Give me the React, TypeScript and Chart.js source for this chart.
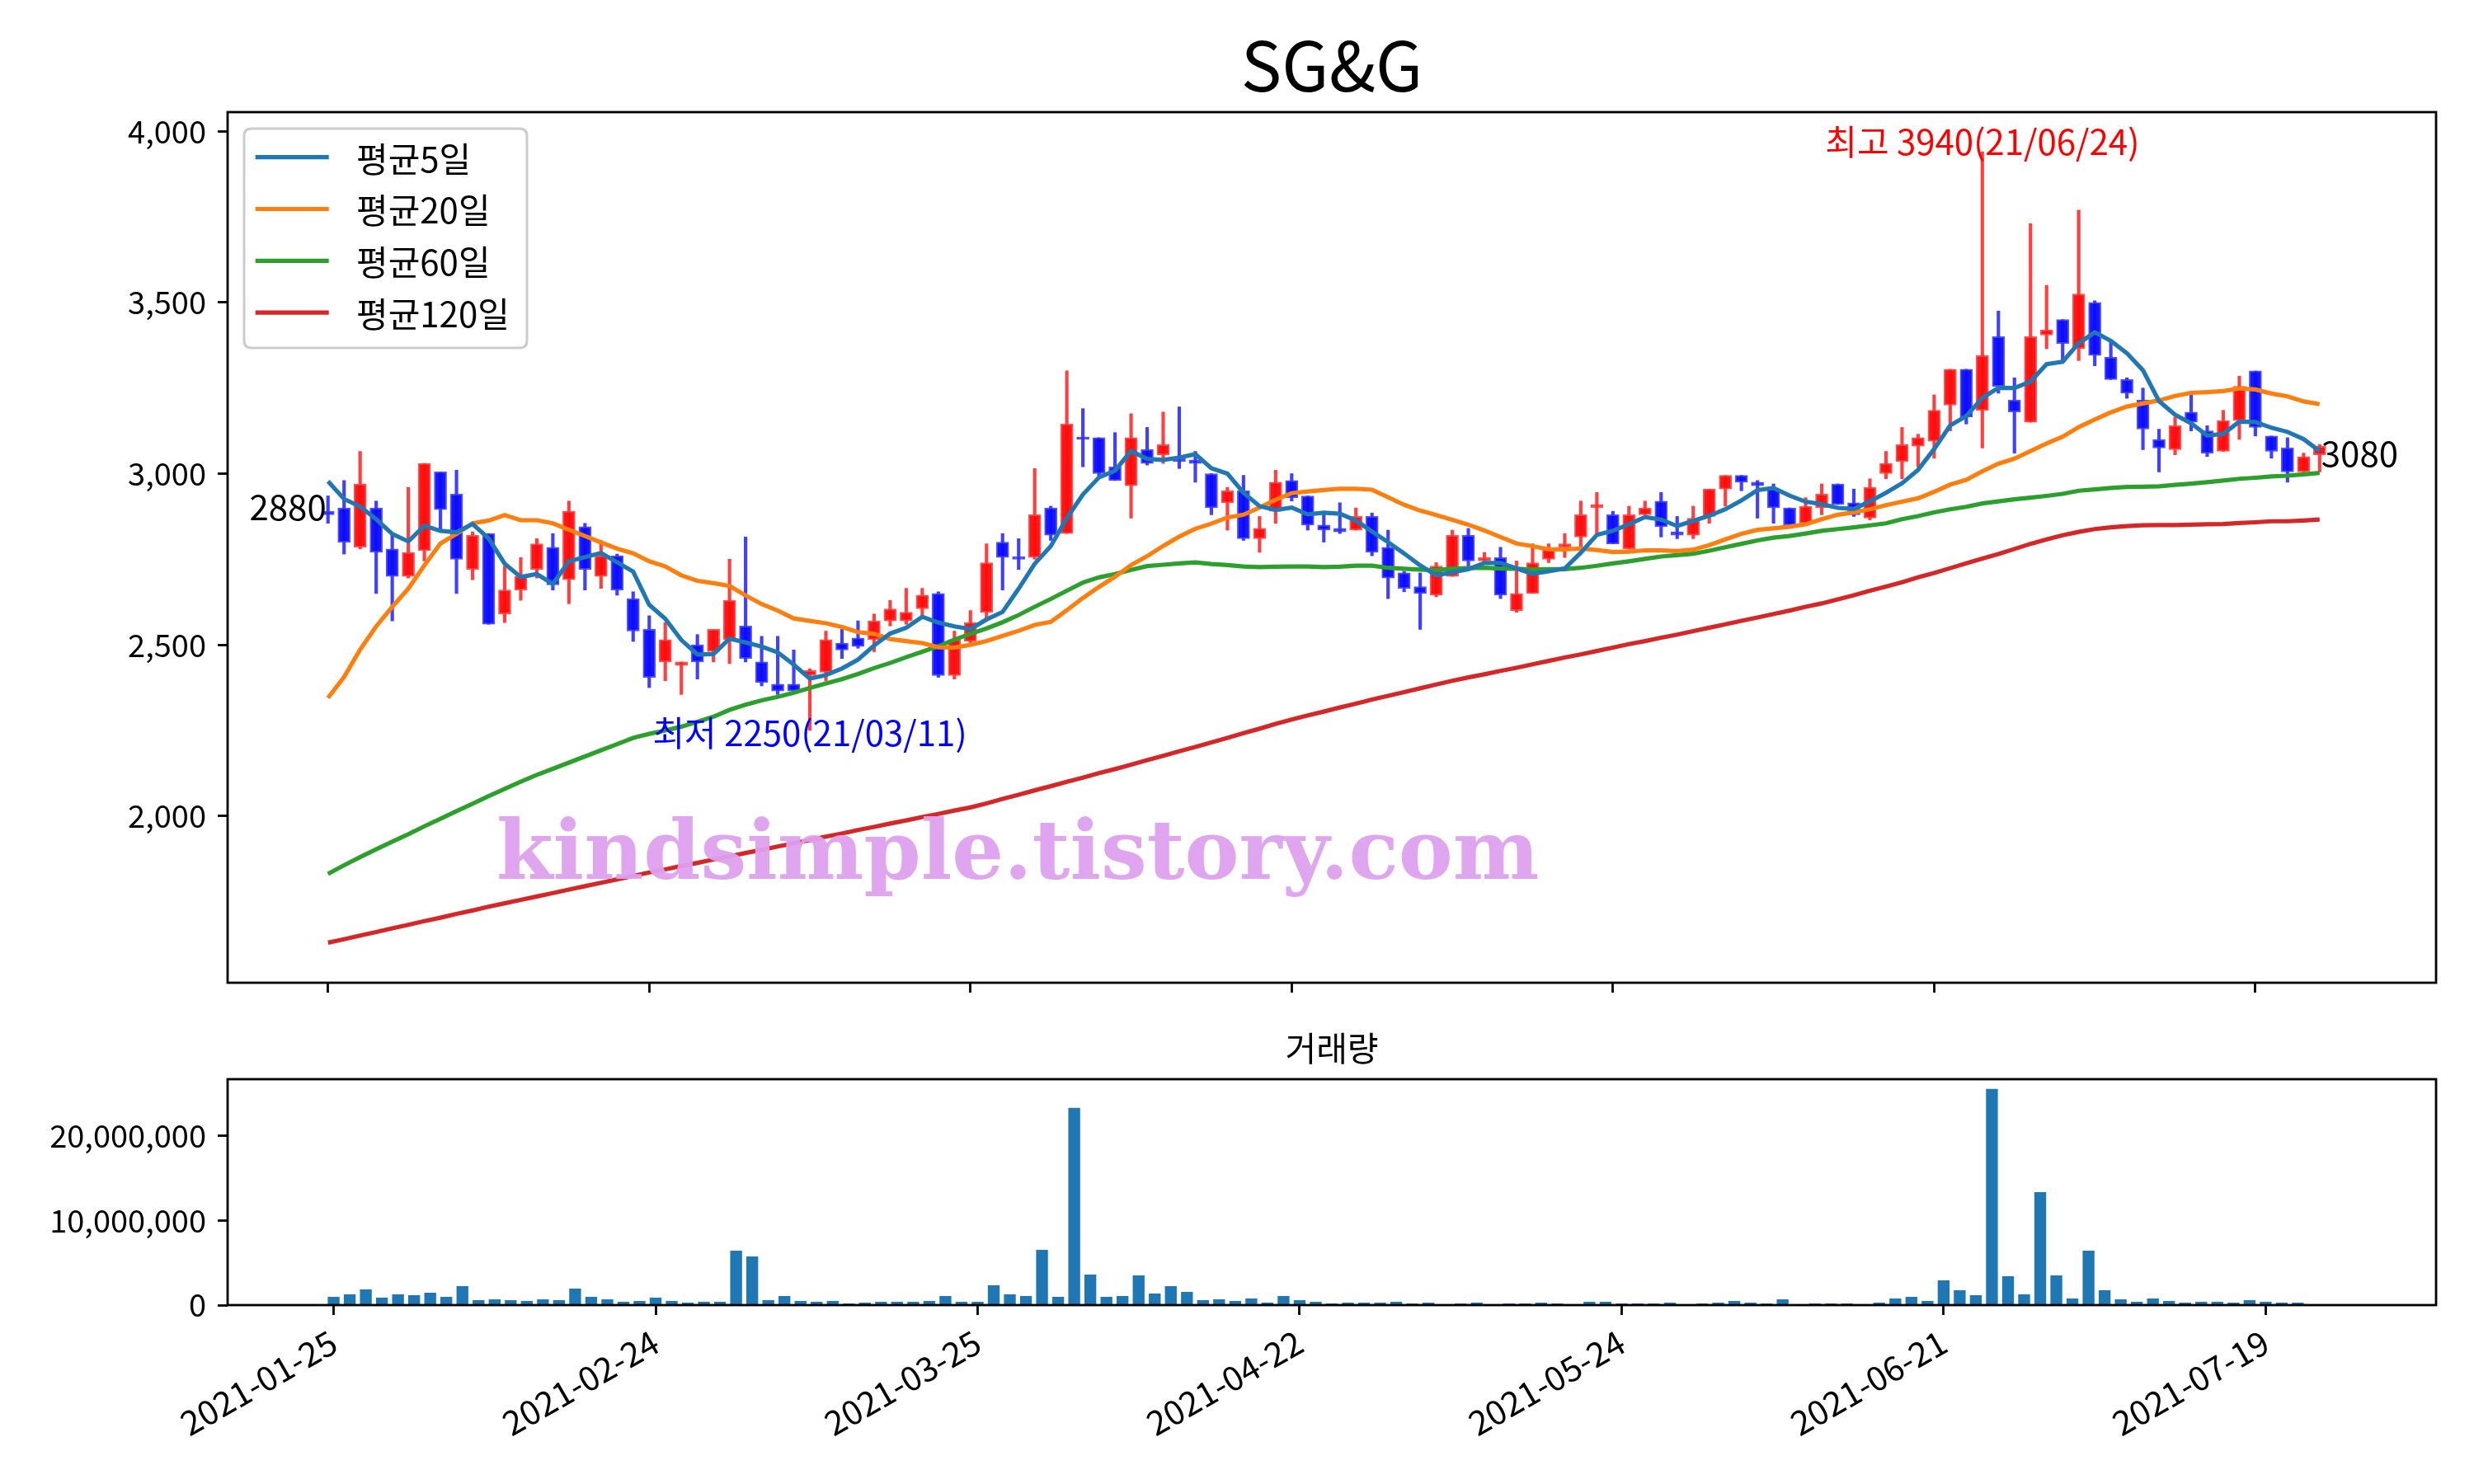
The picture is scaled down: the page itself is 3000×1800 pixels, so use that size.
import React, { useEffect, useRef } from "react";
import { Chart, registerables } from "chart.js";

Chart.register(...registerables);

// ---------------- data ----------------
const chartTitle = "SG&G";
const volumeTitle = "거래량";
const watermark = "kindsimple.tistory.com";
const maLabels = ["평균5일", "평균20일", "평균60일", "평균120일"];
const maColors = ["#1f77b4", "#ff7f0e", "#2ca02c", "#d62728"];

const dates = [
  "2021-01-25","2021-01-26","2021-01-27","2021-01-28","2021-01-29",
  "2021-02-01","2021-02-02","2021-02-03","2021-02-04","2021-02-05",
  "2021-02-08","2021-02-09","2021-02-10",
  "2021-02-15","2021-02-16","2021-02-17","2021-02-18","2021-02-19",
  "2021-02-22","2021-02-23","2021-02-24","2021-02-25","2021-02-26",
  "2021-03-02","2021-03-03","2021-03-04","2021-03-05",
  "2021-03-08","2021-03-09","2021-03-10","2021-03-11","2021-03-12",
  "2021-03-15","2021-03-16","2021-03-17","2021-03-18","2021-03-19",
  "2021-03-22","2021-03-23","2021-03-24","2021-03-25","2021-03-26",
  "2021-03-29","2021-03-30","2021-03-31","2021-04-01","2021-04-02",
  "2021-04-05","2021-04-06","2021-04-07","2021-04-08","2021-04-09",
  "2021-04-12","2021-04-13","2021-04-14","2021-04-15","2021-04-16",
  "2021-04-19","2021-04-20","2021-04-21","2021-04-22","2021-04-23",
  "2021-04-26","2021-04-27","2021-04-28","2021-04-29","2021-04-30",
  "2021-05-03","2021-05-04","2021-05-06","2021-05-07",
  "2021-05-10","2021-05-11","2021-05-12","2021-05-13","2021-05-14",
  "2021-05-17","2021-05-18","2021-05-20","2021-05-21",
  "2021-05-24","2021-05-25","2021-05-26","2021-05-27","2021-05-28",
  "2021-05-31","2021-06-01","2021-06-02","2021-06-03","2021-06-04",
  "2021-06-07","2021-06-08","2021-06-09","2021-06-10","2021-06-11",
  "2021-06-14","2021-06-15","2021-06-16","2021-06-17","2021-06-18",
  "2021-06-21","2021-06-22","2021-06-23","2021-06-24","2021-06-25",
  "2021-06-28","2021-06-29","2021-06-30","2021-07-01","2021-07-02",
  "2021-07-05","2021-07-06","2021-07-07","2021-07-08","2021-07-09",
  "2021-07-12","2021-07-13","2021-07-14","2021-07-15","2021-07-16",
  "2021-07-19","2021-07-20","2021-07-21","2021-07-22","2021-07-23",
];

const opens = [
  2890,2900,2785,2900,2780,2700,2775,3005,2940,2720,
  2825,2590,2660,2720,2785,2690,2845,2700,2760,2635,
  2545,2450,2440,2500,2480,2515,2555,2450,2385,2385,
  2410,2420,2505,2520,2515,2570,2570,2605,2650,2410,
  2510,2595,2800,2755,2755,2900,2825,3105,3105,3020,
  2965,3070,3055,3045,3040,3000,2915,2950,2810,2890,
  2980,2935,2850,2840,2835,2875,2785,2710,2670,2645,
  2700,2820,2745,2755,2600,2650,2750,2785,2815,2900,
  2880,2780,2880,2920,2830,2820,2875,2955,2995,2975,
  2955,2900,2855,2900,2970,2915,2870,3000,3035,3080,
  3095,3200,3305,3185,3400,3215,3150,3405,3450,3365,
  3500,3340,3275,3215,3100,3070,3180,3125,3065,3155,
  3300,3110,3075,3005,3055,
];
const highs = [
  2935,2980,3065,2920,2820,2960,3030,3005,3010,2830,
  2825,2730,2755,2810,2825,2920,2855,2805,2765,2655,
  2585,2565,2450,2530,2545,2750,2815,2525,2525,2485,
  2430,2540,2545,2570,2590,2630,2665,2665,2655,2540,
  2600,2795,2825,2810,3015,2905,3300,3190,3105,3120,
  3175,3135,3180,3195,3065,3000,2960,2995,2875,3010,
  3000,2935,2890,2915,2900,2885,2835,2715,2710,2740,
  2835,2840,2770,2785,2745,2795,2795,2825,2920,2945,
  2890,2905,2920,2945,2875,2905,2955,2995,2995,2980,
  2970,2900,2930,2970,2970,2955,2985,3065,3135,3115,
  3230,3305,3305,3940,3475,3280,3730,3550,3450,3770,
  3505,3385,3280,3250,3130,3165,3230,3140,3185,3285,
  3300,3110,3105,3060,3085,
];
const lows = [
  2855,2765,2780,2650,2570,2695,2745,2835,2650,2690,
  2560,2565,2630,2695,2660,2620,2660,2665,2645,2510,
  2375,2395,2355,2400,2450,2445,2450,2380,2355,2365,
  2250,2395,2460,2490,2480,2555,2560,2585,2405,2400,
  2505,2570,2660,2720,2750,2805,2825,3020,2985,2980,
  2870,3025,3030,3015,2975,2880,2835,2805,2770,2855,
  2920,2835,2800,2825,2835,2760,2635,2655,2545,2640,
  2700,2730,2740,2635,2595,2650,2740,2755,2780,2825,
  2795,2780,2880,2815,2810,2810,2855,2905,2950,2870,
  2855,2850,2850,2880,2910,2875,2865,2985,2985,3020,
  3045,3125,3145,3075,3235,3060,3150,3365,3330,3330,
  3315,3275,3220,3070,3005,3055,3125,3050,3065,3100,
  3110,3045,2975,3005,3005,
];
const closes = [
  2880,2800,2970,2770,2700,2770,3030,2895,2750,2820,
  2560,2660,2700,2795,2675,2890,2720,2760,2660,2540,
  2405,2515,2450,2450,2545,2630,2460,2390,2365,2365,
  2425,2515,2485,2495,2570,2605,2595,2645,2410,2515,
  2565,2740,2755,2750,2880,2820,3145,3100,3000,2980,
  3105,3030,3085,3035,3030,2900,2950,2810,2840,2975,
  2930,2850,2835,2830,2875,2770,2695,2665,2650,2730,
  2820,2745,2755,2645,2650,2740,2780,2795,2880,2910,
  2795,2880,2900,2845,2820,2870,2955,2995,2975,2965,
  2900,2850,2905,2940,2910,2880,2960,3030,3085,3105,
  3185,3305,3165,3345,3255,3180,3400,3420,3380,3525,
  3345,3275,3235,3130,3075,3140,3150,3060,3155,3255,
  3135,3065,3005,3050,3080,
];
const volumes = [
  940000,1240000,1820000,850000,1240000,1140000,1430000,940000,2210000,550000,
  650000,550000,460000,650000,550000,1920000,940000,650000,360000,460000,
  850000,460000,260000,360000,360000,6410000,5720000,550000,1040000,460000,
  360000,460000,160000,260000,360000,360000,360000,460000,1040000,360000,
  360000,2310000,1240000,1040000,6500000,940000,23280000,3580000,940000,1040000,
  3480000,1330000,2210000,1530000,550000,650000,460000,750000,260000,1040000,
  550000,360000,160000,260000,260000,260000,360000,160000,260000,40000,
  160000,260000,40000,160000,160000,260000,160000,40000,360000,360000,
  160000,160000,160000,260000,40000,160000,260000,460000,260000,160000,
  650000,40000,160000,160000,160000,40000,260000,750000,940000,460000,
  2890000,1720000,1140000,25530000,3380000,1240000,13330000,3480000,750000,6410000,
  1720000,650000,360000,750000,460000,260000,360000,360000,260000,550000,
  360000,260000,260000,40000,40000,
];
const ma5 = [
  2978,2926,2904,2867,2824,2802,2848,2833,2829,2853,
  2811,2737,2698,2707,2678,2744,2756,2768,2741,2714,
  2617,2576,2514,2472,2473,2518,2507,2495,2478,2442,
  2401,2412,2431,2457,2498,2533,2550,2582,2565,2554,
  2546,2574,2596,2664,2737,2788,2870,2939,2989,3009,
  3066,3043,3040,3047,3057,3016,3000,2944,2905,2894,
  2901,2881,2886,2883,2863,2831,2800,2767,2732,2703,
  2712,2721,2739,2739,2723,2707,2715,2723,2769,2821,
  2833,2852,2873,2866,2847,2862,2877,2896,2922,2952,
  2958,2936,2918,2911,2900,2897,2919,2944,2972,3011,
  3072,3141,3168,3221,3251,3250,3269,3320,3327,3381,
  3413,3388,3352,3302,3212,3172,3147,3111,3116,3152,
  3151,3134,3122,3101,3066,
];
const ma20 = [
  2345,2406,2486,2554,2611,2664,2732,2796,2824,2855,
  2863,2879,2864,2864,2855,2836,2818,2799,2781,2767,
  2744,2729,2703,2687,2680,2672,2644,2619,2600,2577,
  2570,2563,2552,2537,2532,2517,2511,2505,2493,2492,
  2500,2511,2526,2541,2558,2567,2601,2637,2669,2699,
  2733,2759,2789,2816,2839,2854,2872,2880,2901,2924,
  2943,2948,2952,2956,2956,2953,2931,2909,2892,2879,
  2865,2851,2834,2815,2796,2788,2779,2779,2781,2777,
  2771,2772,2776,2776,2774,2778,2791,2808,2824,2836,
  2840,2845,2852,2867,2880,2887,2896,2908,2918,2928,
  2947,2968,2982,3007,3029,3044,3066,3088,3108,3136,
  3158,3179,3196,3205,3214,3227,3236,3238,3241,3249,
  3246,3234,3226,3211,3203,
];
const ma60 = [
  1831,1856,1880,1903,1925,1947,1970,1992,2014,2036,
  2058,2079,2100,2120,2138,2156,2174,2192,2210,2228,
  2240,2250,2261,2275,2290,2310,2325,2338,2348,2360,
  2374,2387,2400,2415,2432,2447,2464,2480,2496,2515,
  2532,2548,2566,2587,2611,2634,2658,2682,2697,2707,
  2719,2730,2734,2738,2741,2736,2733,2729,2727,2728,
  2729,2729,2727,2728,2731,2731,2725,2722,2720,2718,
  2723,2724,2725,2723,2722,2720,2721,2721,2725,2731,
  2738,2744,2751,2758,2762,2766,2775,2785,2795,2805,
  2813,2818,2825,2833,2838,2843,2849,2855,2867,2876,
  2887,2896,2903,2913,2919,2925,2930,2935,2941,2950,
  2954,2958,2961,2962,2963,2967,2971,2975,2980,2985,
  2988,2992,2994,2998,3002,
];
const ma120 = [
  1630,1640,1651,1661,1672,1682,1693,1703,1714,1724,
  1735,1745,1755,1765,1775,1785,1795,1805,1815,1825,
  1835,1844,1854,1863,1873,1882,1892,1901,1911,1920,
  1930,1940,1949,1959,1968,1978,1987,1997,2006,2016,
  2025,2037,2050,2062,2075,2087,2100,2112,2125,2137,
  2150,2163,2176,2189,2202,2215,2228,2242,2255,2269,
  2282,2294,2305,2317,2328,2340,2351,2362,2373,2384,
  2395,2405,2414,2424,2433,2443,2453,2463,2472,2482,
  2492,2502,2511,2521,2530,2540,2550,2560,2570,2580,
  2590,2600,2611,2621,2633,2645,2658,2670,2683,2697,
  2710,2724,2738,2752,2765,2780,2795,2808,2820,2830,
  2838,2843,2847,2849,2850,2850,2851,2852,2853,2856,
  2858,2861,2861,2863,2866,
];

const priceTicks = [2000, 2500, 3000, 3500, 4000];
const volumeTicks = [0, 10000000, 20000000];
const dateTickIdx = [0, 20, 40, 60, 80, 100, 120];

// ---------------- layout / style ----------------
const FONT = "'Noto Sans CJK KR', 'Noto Sans', sans-serif";
const W = 3000;
const MAIN_H = 1250;
const VOL_TOP = 1230;
const VOL_H = 570;
const AREA_L = 276;
const AREA_R = 2954;
const SPINE = 2.8;

const tickGrid = {
  display: true,
  offset: false,
  drawOnChartArea: false,
  drawTicks: true,
  tickLength: 12,
  tickWidth: SPINE,
  tickColor: "#000",
};

function roundRect(ctx: any, x: number, y: number, w: number, h: number, r: number) {
  ctx.beginPath();
  ctx.moveTo(x + r, y);
  ctx.lineTo(x + w - r, y);
  ctx.quadraticCurveTo(x + w, y, x + w, y + r);
  ctx.lineTo(x + w, y + h - r);
  ctx.quadraticCurveTo(x + w, y + h, x + w - r, y + h);
  ctx.lineTo(x + r, y + h);
  ctx.quadraticCurveTo(x, y + h, x, y + h - r);
  ctx.lineTo(x, y + r);
  ctx.quadraticCurveTo(x, y, x + r, y);
  ctx.closePath();
}

const shortDate = (d: string) => d.slice(2).replace(/-/g, "/");

export default function App() {
  const mainRef = useRef<HTMLCanvasElement | null>(null);
  const volRef = useRef<HTMLCanvasElement | null>(null);

  useEffect(() => {
    const n = closes.length;
    const up = (i: number) => closes[i] >= opens[i];

    let hiIdx = 0;
    let loIdx = 0;
    for (let i = 0; i < n; i++) {
      if (highs[i] > highs[hiIdx]) hiIdx = i;
      if (lows[i] < lows[loIdx]) loIdx = i;
    }

    const mainOverlay = {
      id: "mainOverlay",
      afterDraw(chart: any) {
        const ctx = chart.ctx;
        const { left, top, right, bottom } = chart.chartArea;
        const xs = chart.scales.x;
        const ys = chart.scales.y;
        ctx.save();
        // watermark
        ctx.font = `bold 99px 'DejaVu Serif', serif`;
        ctx.fillStyle = "rgba(222,160,238,0.95)";
        ctx.textAlign = "left";
        ctx.textBaseline = "alphabetic";
        ctx.fillText(watermark, 602, 1066);
        // spines
        ctx.strokeStyle = "#000";
        ctx.lineWidth = SPINE;
        ctx.strokeRect(left, top, right - left, bottom - top);
        // title
        ctx.fillStyle = "#000";
        ctx.font = `83px ${FONT}`;
        ctx.textAlign = "center";
        ctx.textBaseline = "alphabetic";
        ctx.fillText(chartTitle, (left + right) / 2, 111);
        // annotations
        ctx.font = `42px ${FONT}`;
        ctx.fillStyle = "#ff0000";
        ctx.textAlign = "center";
        ctx.fillText(
          `최고 ${highs[hiIdx]}(${shortDate(dates[hiIdx])})`,
          xs.getPixelForValue(hiIdx),
          ys.getPixelForValue(highs[hiIdx]) + 4
        );
        ctx.fillStyle = "#0000ff";
        ctx.fillText(
          `최저 ${lows[loIdx]}(${shortDate(dates[loIdx])})`,
          xs.getPixelForValue(loIdx),
          ys.getPixelForValue(lows[loIdx]) + 19
        );
        ctx.fillStyle = "#000";
        ctx.textAlign = "right";
        ctx.fillText(String(closes[0]), xs.getPixelForValue(0) - 2, ys.getPixelForValue(highs[0]) + 29);
        ctx.textAlign = "left";
        ctx.fillText(String(closes[n - 1]), xs.getPixelForValue(n - 1) + 2, ys.getPixelForValue(highs[n - 1]) + 27);
        // legend
        const lx = left + 20;
        const ly = top + 20;
        roundRect(ctx, lx, ly, 343, 266, 9);
        ctx.fillStyle = "rgba(255,255,255,0.8)";
        ctx.fill();
        ctx.strokeStyle = "#cccccc";
        ctx.lineWidth = 3;
        ctx.stroke();
        ctx.font = `42px ${FONT}`;
        ctx.textBaseline = "middle";
        ctx.textAlign = "left";
        for (let k = 0; k < maLabels.length; k++) {
          const ry = top + 54.7 + k * 62.8;
          ctx.strokeStyle = maColors[k];
          ctx.lineWidth = 5.2;
          ctx.beginPath();
          ctx.moveTo(left + 33.7, ry);
          ctx.lineTo(left + 122.7, ry);
          ctx.stroke();
          ctx.fillStyle = "#000";
          ctx.fillText(maLabels[k], left + 156, ry + 2);
        }
        ctx.restore();
      },
    };

    const volOverlay = {
      id: "volOverlay",
      afterDraw(chart: any) {
        const ctx = chart.ctx;
        const { left, top, right, bottom } = chart.chartArea;
        ctx.save();
        ctx.strokeStyle = "#000";
        ctx.lineWidth = SPINE;
        ctx.strokeRect(left, top, right - left, bottom - top);
        ctx.fillStyle = "#000";
        ctx.font = `41px ${FONT}`;
        ctx.textAlign = "center";
        ctx.textBaseline = "alphabetic";
        ctx.fillText(volumeTitle, (left + right) / 2, 1287 - VOL_TOP);
        ctx.restore();
      },
    };

    const maSets = [ma5, ma20, ma60, ma120].map((arr, k) => ({
      type: "line",
      label: maLabels[k],
      data: arr.map((v, i) => ({ x: i, y: v })),
      borderColor: maColors[k],
      backgroundColor: maColors[k],
      borderWidth: 5.2,
      pointRadius: 0,
      tension: 0,
      order: 1,
    }));

    const main = new Chart(mainRef.current as HTMLCanvasElement, {
      type: "bar",
      data: {
        datasets: [
          {
            type: "bar",
            label: "wick",
            data: highs.map((h, i) => ({ x: i, y: [lows[i], h] })),
            backgroundColor: (c: any) => (up(c.dataIndex) ? "rgba(255,30,30,0.85)" : "rgba(30,30,255,0.85)"),
            borderWidth: 0,
            barThickness: 3.5,
            grouped: false,
            order: 3,
          },
          {
            type: "bar",
            label: "body",
            data: opens.map((o, i) => ({ x: i, y: [o, closes[i]] })),
            backgroundColor: (c: any) => (up(c.dataIndex) ? "rgba(255,10,10,0.95)" : "rgba(10,10,255,0.95)"),
            borderColor: (c: any) => (up(c.dataIndex) ? "rgba(255,60,60,0.9)" : "rgba(60,60,255,0.9)"),
            borderWidth: 2,
            borderSkipped: false,
            barThickness: 15,
            minBarLength: 3,
            grouped: false,
            order: 2,
          },
          ...maSets,
        ] as any,
      },
      options: {
        responsive: false,
        animation: false,
        devicePixelRatio: 1,
        events: [],
        layout: { padding: { left: 0, right: W - AREA_R, top: 136, bottom: 0 } },
        plugins: { legend: { display: false }, tooltip: { enabled: false }, title: { display: false } },
        scales: {
          x: {
            type: "linear",
            offset: false,
            min: -6.25,
            max: 131.25,
            afterFit: (s: any) => {
              s.height = MAIN_H - 1192;
            },
            afterBuildTicks: (s: any) => {
              s.ticks = dateTickIdx.map((v) => ({ value: v }));
            },
            ticks: { display: false, autoSkip: false },
            grid: tickGrid,
            border: { display: false },
          },
          y: {
            type: "linear",
            min: 1513,
            max: 4056,
            afterFit: (s: any) => {
              s.width = AREA_L;
            },
            afterBuildTicks: (s: any) => {
              s.ticks = priceTicks.map((v) => ({ value: v }));
            },
            ticks: {
              color: "#000",
              font: { family: FONT, size: 38 },
              padding: 14,
              callback: (v: any) => Number(v).toLocaleString("en-US"),
            },
            grid: tickGrid,
            border: { display: false },
          },
        },
      } as any,
      plugins: [mainOverlay],
    });

    const vol = new Chart(volRef.current as HTMLCanvasElement, {
      type: "bar",
      data: {
        datasets: [
          {
            label: volumeTitle,
            data: volumes.map((v, i) => ({ x: i, y: v })),
            backgroundColor: "#1f77b4",
            borderWidth: 0,
            barThickness: 13.7,
            grouped: false,
          },
        ] as any,
      },
      options: {
        responsive: false,
        animation: false,
        devicePixelRatio: 1,
        events: [],
        layout: { padding: { left: 0, right: W - AREA_R, top: 1309 - VOL_TOP, bottom: 0 } },
        plugins: { legend: { display: false }, tooltip: { enabled: false } },
        scales: {
          x: {
            type: "linear",
            offset: false,
            min: -6.585,
            max: 130.585,
            afterFit: (s: any) => {
              s.height = 1800 - 1583;
            },
            afterBuildTicks: (s: any) => {
              s.ticks = dateTickIdx.map((v) => ({ value: v }));
            },
            ticks: {
              autoSkip: false,
              color: "#000",
              font: { family: FONT, size: 41 },
              minRotation: 30,
              maxRotation: 30,
              padding: 8,
              callback: (v: any) => dates[Number(v)] ?? "",
            },
            grid: tickGrid,
            border: { display: false },
          },
          y: {
            type: "linear",
            min: 0,
            max: 26700000,
            afterFit: (s: any) => {
              s.width = AREA_L;
            },
            afterBuildTicks: (s: any) => {
              s.ticks = volumeTicks.map((v) => ({ value: v }));
            },
            ticks: {
              color: "#000",
              font: { family: FONT, size: 38 },
              padding: 14,
              callback: (v: any) => Number(v).toLocaleString("en-US"),
            },
            grid: tickGrid,
            border: { display: false },
          },
        },
      } as any,
      plugins: [volOverlay],
    });

    return () => {
      main.destroy();
      vol.destroy();
    };
  }, []);

  return (
    <div style={{ position: "absolute", left: 0, top: 0, width: W, height: 1800, background: "#fff", overflow: "hidden" }}>
      <canvas
        ref={mainRef}
        width={W}
        height={MAIN_H}
        style={{ position: "absolute", left: 0, top: 0, width: W, height: MAIN_H }}
      />
      <canvas
        ref={volRef}
        width={W}
        height={VOL_H}
        style={{ position: "absolute", left: 0, top: VOL_TOP, width: W, height: VOL_H }}
      />
    </div>
  );
}
